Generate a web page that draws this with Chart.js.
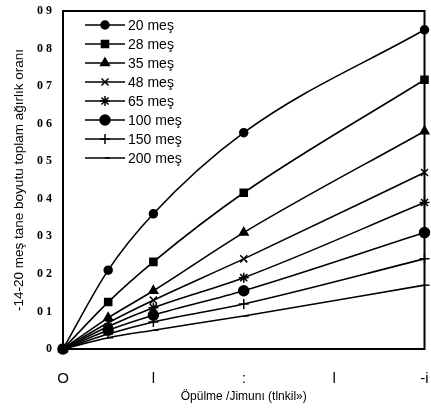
<!DOCTYPE html>
<html>
<head>
<meta charset="utf-8">
<script src="https://cdn.jsdelivr.net/npm/chart.js@4/dist/chart.umd.min.js"></script>
<style>
  html, body { margin:0; padding:0; background:#fff; }
  #wrap { width:431px; height:408px; }
</style>
</head>
<body>
<div id="wrap"><canvas id="c" width="431" height="408"></canvas></div>
<script>
// grinding time values on the x axis
const times = [0, 0.5, 1, 2, 4];
const xTickLabels = ['O', 'l', ':', 'l', '-i'];
const yTickLabels = ['0', '0 1', '0 2', '0 3', '0 4', '0 5', '0 6', '0 7', '0 8', '0 9'];

const seriesNames = ['20 meş', '28 meş', '35 meş', '48 meş', '65 meş', '100 meş', '150 meş', '200 meş'];
const m20  = [0, 0.21, 0.36, 0.576, 0.85];
const m28  = [0, 0.125, 0.232, 0.416, 0.717];
const m35  = [0, 0.083, 0.155, 0.31, 0.58];
const m48  = [0, 0.07, 0.13, 0.24, 0.47];
const m65  = [0, 0.06, 0.11, 0.19, 0.39];
const m100 = [0, 0.05, 0.09, 0.155, 0.31];
const m150 = [0, 0.04, 0.072, 0.12, 0.24];
const m200 = [0, 0.03, 0.05, 0.088, 0.17];
const allSeries = [m20, m28, m35, m48, m65, m100, m150, m200];

const styles = [
  {ps:'circle', r:4}, {ps:'rect', r:5}, {ps:'triangle', r:5}, {ps:'crossRot', r:5},
  {ps:'star', r:5}, {ps:'circle', r:5}, {ps:'cross', r:5}, {ps:'dash', r:5}
];

const datasets = allSeries.map((vals, i) => ({
  label: seriesNames[i],
  data: vals.map((v, j) => ({x: times[j], y: v})),
  borderColor: '#000', backgroundColor: '#000',
  borderWidth: 1.6,
  pointStyle: styles[i].ps, pointRadius: styles[i].r, pointBorderWidth: 1.5,
  cubicInterpolationMode: 'monotone', fill: false, clip: false
}));

// frame around the plot + legend inside the plot area
const framePlugin = {
  id: 'frame',
  afterDatasetsDraw(chart){
    const {ctx, chartArea:a} = chart;
    ctx.save();
    ctx.strokeStyle = '#000'; ctx.lineWidth = 2;
    ctx.strokeRect(a.left, a.top, a.right - a.left, a.bottom - a.top);
    ctx.font = '14px "Liberation Sans", Arial, sans-serif';
    ctx.textBaseline = 'middle';
    ctx.fillStyle = '#000';
    seriesNames.forEach((name, i) => {
      const y = 25 + i * 19;
      ctx.beginPath(); ctx.lineWidth = 1.6;
      ctx.moveTo(85, y); ctx.lineTo(125, y); ctx.stroke();
      if (Chart.helpers && Chart.helpers.drawPoint) {
        ctx.lineWidth = 1.5;
        Chart.helpers.drawPoint(ctx, {pointStyle: styles[i].ps, radius: styles[i].r, rotation: 0, borderWidth: 1.5}, 105, y);
      }
      ctx.fillText(name, 128, y + 1);
    });
    ctx.restore();
  }
};

new Chart(document.getElementById('c'), {
  type: 'line',
  data: { datasets },
  plugins: [framePlugin],
  options: {
    responsive: false, animation: false,
    layout: { padding: { left: 4, right: 3, top: 11, bottom: 4 } },
    plugins: { legend: { display: false }, tooltip: { enabled: false } },
    scales: {
      x: {
        type: 'linear', min: 0, max: 4,
        grid: { display: false, drawTicks: false }, border: { display: true, color: '#000', width: 2 },
        ticks: { stepSize: 1, color: '#000', padding: 21, font: { family: 'Liberation Sans', size: 15 },
          callback: (v) => xTickLabels[v] },
        title: { display: true, text: 'Öpülme /Jimunı (tlnkil»)', color: '#000', padding: 0,
          font: { family: 'Liberation Sans', size: 12 } },
        afterFit: (s) => { s.height = 55; s.paddingLeft = 0; s.paddingRight = 0; }
      },
      y: {
        min: 0, max: 0.9,
        grid: { display: false, drawTicks: false }, border: { display: true, color: '#000', width: 2 },
        ticks: { stepSize: 0.1, color: '#000', padding: 11, font: { family: 'Liberation Serif', size: 12, weight: 'bold' },
          callback: (v, i) => yTickLabels[i] },
        title: { display: true, text: '-14-20 meş tane boyutu toplam ağırlık oranı', color: '#000', padding: 7,
          font: { family: 'Liberation Sans', size: 13.5 } },
        afterFit: (s) => { s.width = 59; s.paddingTop = 0; s.paddingBottom = 0; }
      }
    }
  }
});
</script>
</body>
</html>
